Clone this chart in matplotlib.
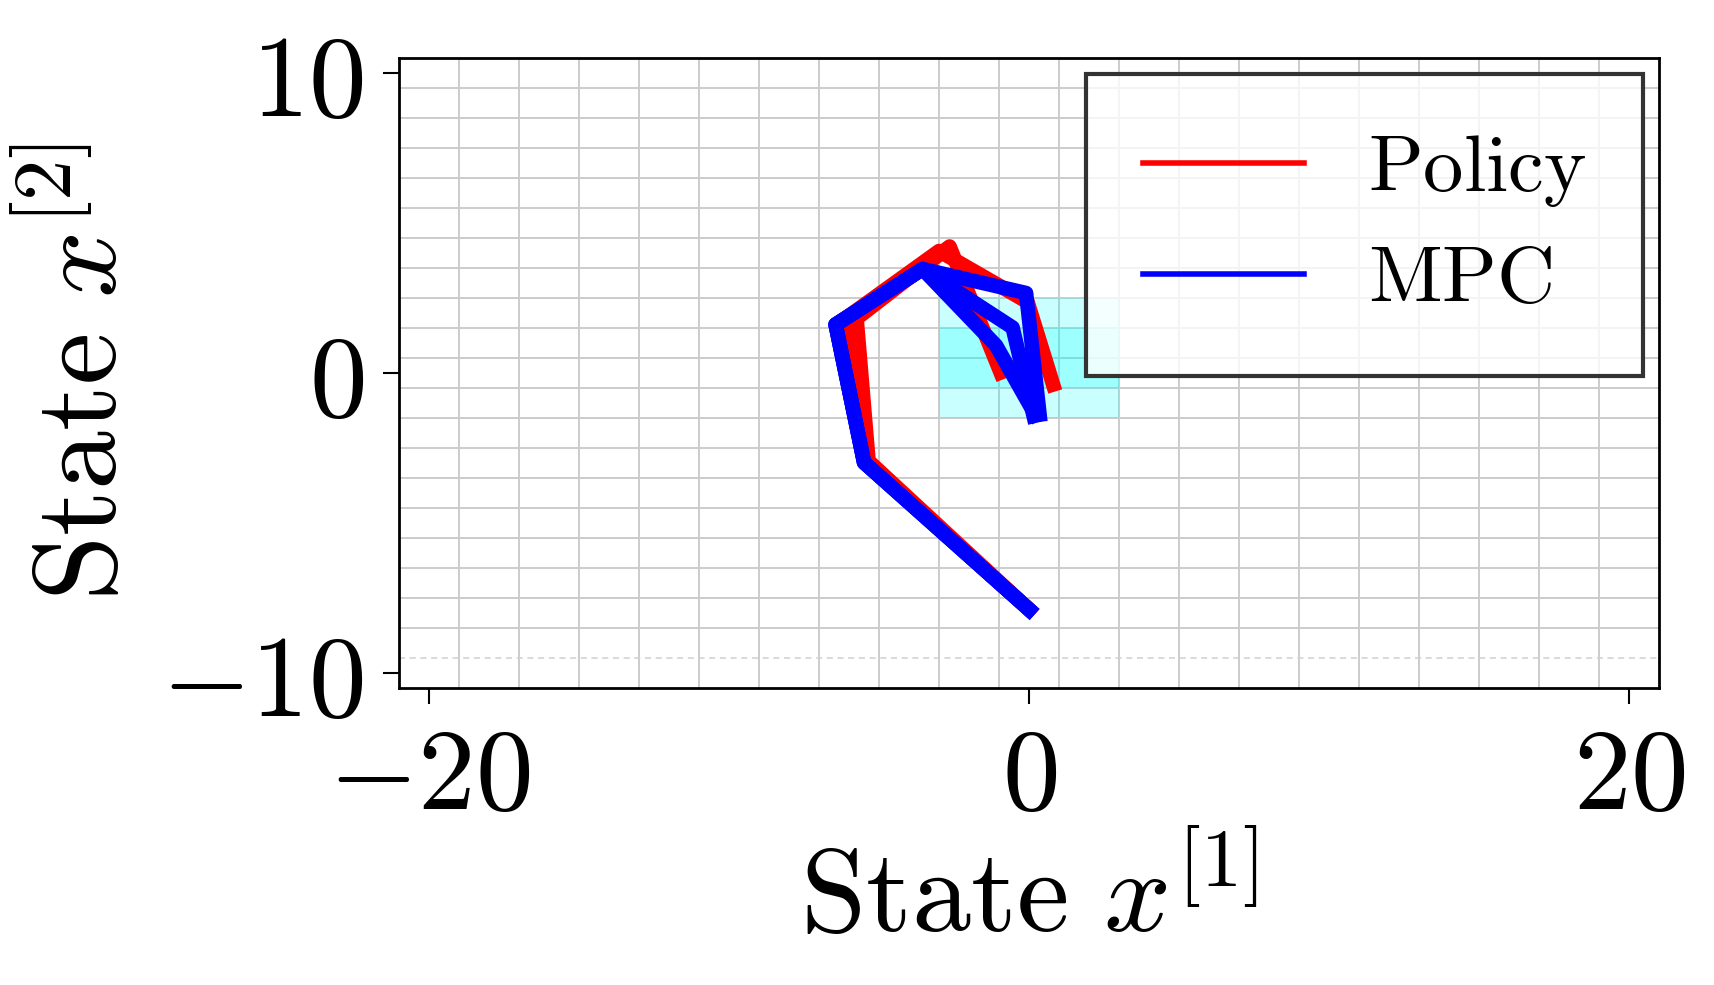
import numpy as np
import matplotlib
matplotlib.use("Agg")
import matplotlib.pyplot as plt
from matplotlib.patches import Rectangle

plt.rcParams["mathtext.fontset"] = "cm"
plt.rcParams["font.family"] = "serif"

# Closed-loop trajectories (state x1, state x2)
policy_x = [
    [0.0, -5.45, -6.2, -3.0, -0.05, 0.8],
    [0.0, -5.35, -5.75, -2.65, -0.95],
]
policy_y = [
    [-7.9, -3.0, 1.75, 4.05, 2.35, -0.4],
    [-7.9, -2.95, 1.8, 4.2, 0.0],
]
mpc_x = [
    [0.0, -5.5, -6.45, -3.55, -0.1, 0.35],
    [0.0, -5.5, -6.45, -3.55, -0.55, 0.15],
    [0.0, -5.5, -6.45, -3.55, -1.1, 0.2],
]
mpc_y = [
    [-7.9, -3.0, 1.6, 3.45, 2.65, -1.4],
    [-7.9, -3.0, 1.6, 3.45, 1.5, -1.45],
    [-7.9, -3.0, 1.6, 3.45, 0.9, -1.4],
]

# Target set cells (x1 range, x2 range)
target_outer = ((-3, 3), (-1.5, 2.5))
target_inner = ((-3, 3), (-0.5, 1.5))

# Partition grid
grid_x = np.arange(-19, 20, 2)
grid_y = np.arange(-8.5, 10, 1.0)
dashed_y = -9.5

xticks = [-20, 0, 20]
yticks = [-10, 0, 10]

fig = plt.figure(figsize=(17.15, 9.85), dpi=100)
ax = fig.add_axes([0.2327, 0.302, 0.7347, 0.6396])

for gx in grid_x:
    ax.axvline(gx, color="#cccccc", lw=1.4, zorder=0.5)
for gy in grid_y:
    ax.axhline(gy, color="#cccccc", lw=1.4, zorder=0.5)
ax.axhline(dashed_y, color="#d0d0d0", lw=1.1, ls=(0, (4, 3)), zorder=0.5)

for (xr, yr) in (target_outer, target_inner):
    ax.add_patch(Rectangle((xr[0], yr[0]), xr[1] - xr[0], yr[1] - yr[0],
                           facecolor="cyan", edgecolor="none", alpha=0.21, zorder=1))

for i, (xs, ys) in enumerate(zip(policy_x, policy_y)):
    ax.plot(xs, ys, color="red", lw=10.5, zorder=2,
            label=r"$\mathrm{Policy}$" if i == 0 else None)
for i, (xs, ys) in enumerate(zip(mpc_x, mpc_y)):
    ax.plot(xs, ys, color="blue", lw=10.5, zorder=3,
            label=r"$\mathrm{MPC}$" if i == 0 else None)

ax.set_xlim(-21, 21)
ax.set_ylim(-10.5, 10.5)
ax.set_aspect("equal")

ax.set_xticks(xticks)
ax.set_yticks(yticks)
ax.set_xticklabels([rf"${v}$" for v in xticks])
ax.set_yticklabels([rf"${v}$" for v in yticks])
ax.tick_params(length=11.5, width=1.5, pad=14, labelsize=83)
for sp in ax.spines.values():
    sp.set_linewidth(2)

ax.set_xlabel(r"$\mathrm{State}\ x^{[1]}$", fontsize=85, labelpad=6)
ax.set_ylabel(r"$\mathrm{State}\ x^{[2]}$", fontsize=85, labelpad=14)

leg = ax.legend(loc="upper right", fontsize=58, fancybox=False,
                borderaxespad=0.2, borderpad=0.7, handlelength=2.0,
                handletextpad=0.8, labelspacing=0.4)
frame = leg.get_frame()
frame.set_alpha(None)
frame.set_facecolor((1, 1, 1, 0.8))
frame.set_edgecolor((0.2, 0.2, 0.2, 1.0))
frame.set_linewidth(3)
for h in leg.legend_handles:
    h.set_linewidth(4)

fig.savefig("out.png", dpi=100)
